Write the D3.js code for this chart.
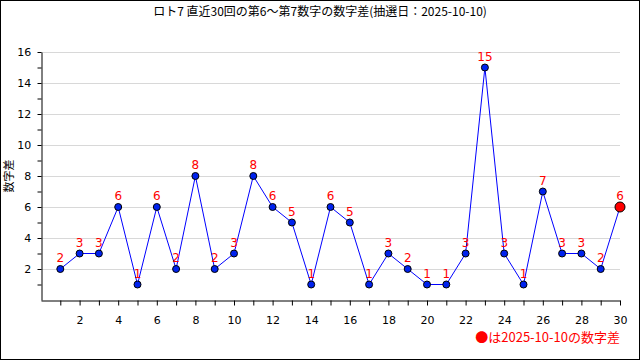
<!DOCTYPE html>
<html><head><meta charset="utf-8">
<script src="https://cdn.jsdelivr.net/npm/d3@7"></script>
<style>body{margin:0;background:#fff}svg{display:block}</style>
</head><body>
<script>
const title = "ロト7 直近30回の第6～第7数字の数字差(抽選日：2025-10-10)";
const yLabel = "数字差";
const legendText = "●は2025-10-10の数字差";
const draws = d3.range(1, 31);
const diffs = [2,3,3,6,1,6,2,8,2,3,8,6,5,1,6,5,1,3,2,1,1,3,15,3,1,7,3,3,2,6];
const yTicks = [2,4,6,8,10,12,14,16];
const xTicks = [2,4,6,8,10,12,14,16,18,20,22,24,26,28,30];

const W = 640, H = 360;
const font = "'Noto Sans CJK JP', sans-serif";
const svg = d3.select("body").append("svg").attr("width", W).attr("height", H);
svg.append("rect").attr("x",0.5).attr("y",0.5).attr("width",W-1).attr("height",H-1)
  .attr("fill","#fff").attr("stroke","#000");

const x = d3.scaleLinear().domain([0,30]).range([41,620]);
const y = d3.scaleLinear().domain([0,16]).range([300,52]);

svg.append("text").attr("x",320).attr("y",16).attr("text-anchor","middle")
  .attr("font-family",font).attr("font-size",12).text(title);

// grid
svg.append("g").selectAll("line").data(yTicks).join("line")
  .attr("x1",41).attr("x2",620).attr("y1",d=>y(d)+0.5).attr("y2",d=>y(d)+0.5)
  .attr("stroke","#d8d8d8");

// axes
const yAxis = d3.axisLeft(y).tickValues(d3.range(1,17)).tickSize(4).tickSizeOuter(0)
  .tickFormat(d => yTicks.includes(d) ? d : "");
const gy = svg.append("g").attr("transform","translate(41.5,0)").call(yAxis);
const xAxis = d3.axisBottom(x).tickValues(d3.range(1,31)).tickSize(5).tickSizeOuter(0)
  .tickFormat(d => xTicks.includes(d) ? d : "");
const gx = svg.append("g").attr("transform","translate(0,300.5)").call(xAxis);
[gx,gy].forEach(g=>{
  g.select(".domain").attr("stroke","#000");
  g.selectAll(".tick line").attr("stroke","#000");
  g.selectAll("text").attr("font-family","'DejaVu Sans', sans-serif").attr("font-size",11).attr("fill","#000");
});
gx.selectAll("text").attr("dy","1.4em");
gy.selectAll("text").attr("dx","-0.3em");

svg.append("text").attr("transform","translate(13,176) rotate(-90)")
  .attr("text-anchor","middle").attr("font-family",font).attr("font-size",11).text(yLabel);

// line
const data = draws.map((d,i)=>({x:d,y:diffs[i]}));
svg.append("path").datum(data).attr("fill","none").attr("stroke","#0000ff").attr("stroke-width",1)
  .attr("d", d3.line().x(d=>x(d.x)).y(d=>y(d.y)));

svg.append("g").selectAll("circle").data(data).join("circle")
  .attr("cx",d=>x(d.x)).attr("cy",d=>y(d.y))
  .attr("r",(d,i)=> i===data.length-1 ? 5 : 3.5)
  .attr("fill",(d,i)=> i===data.length-1 ? "#ff0000" : "#0022ee")
  .attr("stroke","#000").attr("stroke-width",1);

svg.append("g").selectAll("text").data(data).join("text")
  .attr("x",d=>x(d.x)).attr("y",d=>y(d.y)-7)
  .attr("text-anchor","middle").attr("font-family","'DejaVu Sans', sans-serif").attr("font-size",12)
  .attr("fill","#ff0000").text(d=>d.y);

svg.append("text").attr("x",620).attr("y",342).attr("text-anchor","end")
  .attr("font-family",font).attr("font-size",13).attr("fill","#ff0000").text(legendText);
</script>
</body></html>
